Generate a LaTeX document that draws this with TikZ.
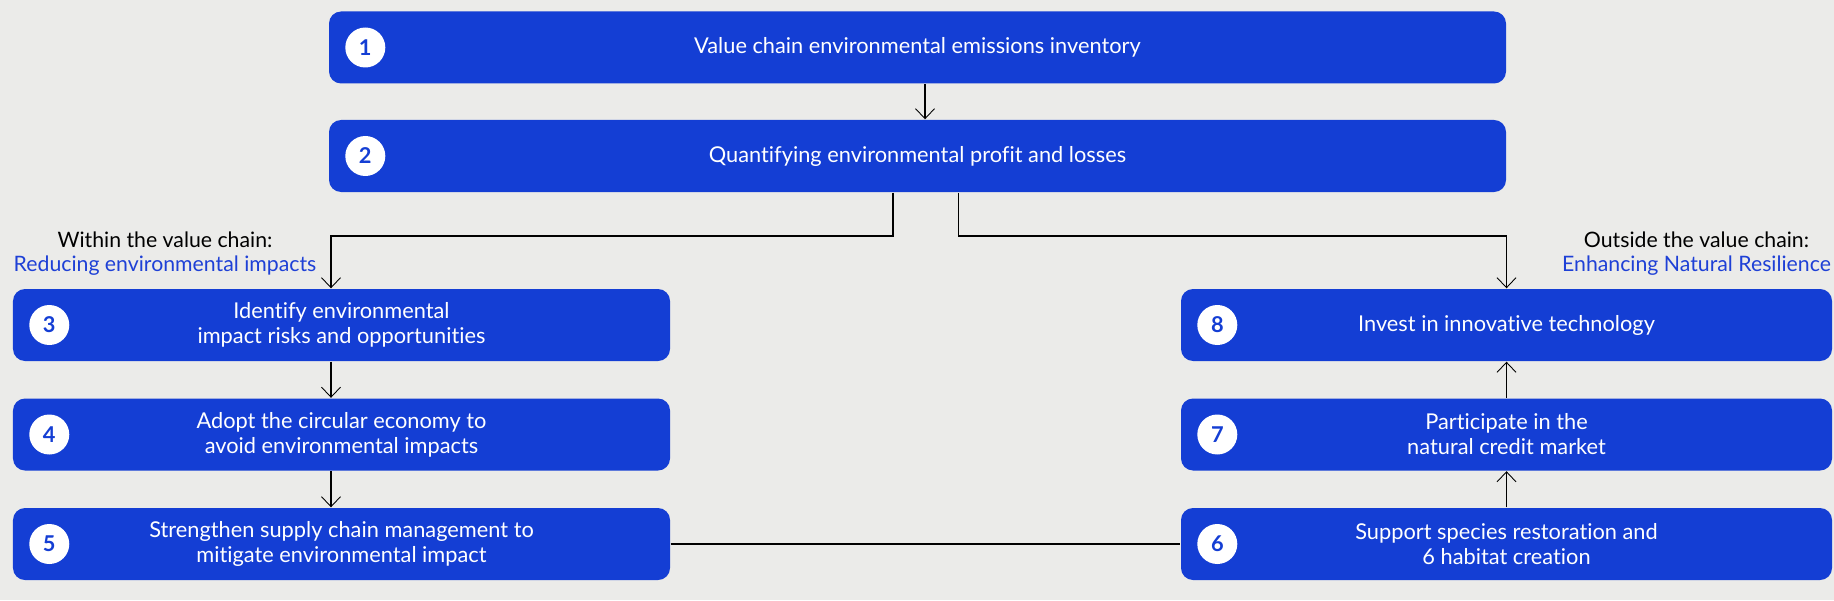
\documentclass[tikz,border=0pt]{standalone}
\usepackage{fontspec}
\setmainfont[Ligatures=NoCommon]{Lato}
\usetikzlibrary{arrows.meta}

\definecolor{boxblue}{RGB}{20,62,212}
\definecolor{labelblue}{RGB}{30,64,214}
\definecolor{paper}{RGB}{235,235,233}

\begin{document}
\begin{tikzpicture}[every node/.style={font=\fontsize{6.2}{7.1}\selectfont},
    stage/.style={fill=boxblue, rounded corners=0.12cm, text=white, align=center,
                  minimum height=0.72cm, inner sep=0pt},
    badge/.style={circle, fill=white, text=boxblue, minimum size=0.4cm, inner sep=0pt,
                  font=\fontsize{6.2}{7.1}\selectfont\bfseries},
    side/.style={font=\fontsize{6.05}{7.1}\selectfont},
    link/.style={line width=0.3pt, black},
    arr/.style={link, -{Straight Barb[length=0.1cm, width=0.19cm, line width=0.25pt]}}]

    \fill[paper] (0cm, 0cm) rectangle (18.34cm, 6cm);
    \useasboundingbox (0cm, 0cm) rectangle (18.34cm, 6cm);

% top stages
    \node[stage, minimum width=11.77cm] (B1) at (9.175cm, 5.525cm) {Value chain environmental emissions inventory};
    \node[stage, minimum width=11.77cm] (B2) at (9.175cm, 4.44cm) {Quantifying environmental profit and losses};

% within the value chain
    \node[side] (L1) at (1.65cm, 3.6cm) {Within the value chain:};
    \node[side, text=labelblue] (L2) at (1.65cm, 3.34cm) {Reducing environmental impacts};

    \node[stage, minimum width=6.57cm] (B3) at (3.415cm, 2.75cm) {Identify environmental\\impact risks and opportunities};
    \node[stage, minimum width=6.57cm] (B4) at (3.415cm, 1.655cm) {Adopt the circular economy to\\avoid environmental impacts};
    \node[stage, minimum width=6.57cm] (B5) at (3.415cm, 0.56cm) {Strengthen supply chain management to\\mitigate environmental impact};

% outside the value chain
    \node[side] (R1) at (16.965cm, 3.6cm) {Outside the value chain:};
    \node[side, text=labelblue] (R2) at (16.965cm, 3.34cm) {Enhancing Natural Resilience};

    \node[stage, minimum width=6.51cm] (B8) at (15.065cm, 2.75cm) {Invest in innovative technology};
    \node[stage, minimum width=6.51cm] (B7) at (15.065cm, 1.655cm) {Participate in the\\natural credit market};
    \node[stage, minimum width=6.51cm] (B6) at (15.065cm, 0.56cm) {Support species restoration and\\6 habitat creation};

% numbers
    \node[badge] (N1) at ([xshift=0.37cm]B1.west) {1};
    \node[badge] (N2) at ([xshift=0.37cm]B2.west) {2};
    \node[badge] (N3) at ([xshift=0.37cm]B3.west) {3};
    \node[badge] (N4) at ([xshift=0.37cm]B4.west) {4};
    \node[badge] (N5) at ([xshift=0.37cm]B5.west) {5};
    \node[badge] (N6) at ([xshift=0.37cm]B6.west) {6};
    \node[badge] (N7) at ([xshift=0.37cm]B7.west) {7};
    \node[badge] (N8) at ([xshift=0.37cm]B8.west) {8};

% connectors
    \coordinate (C12) at (9.25cm, 5cm);
    \coordinate (C23) at (8.93cm, 3.64cm);
    \coordinate (C28) at (9.585cm, 3.64cm);
    \coordinate (C3) at (3.31cm, 3.64cm);

    \draw[arr] (B1.south -| C12) -- (B2.north -| C12);
    \draw[arr] (B2.south -| C23) -- (C23) -| (B3.north -| C3);
    \draw[arr] (B2.south -| C28) -- (C28) -| (B8.north);
    \draw[arr] (B3.south -| C3) -- (B4.north -| C3);
    \draw[arr] (B4.south -| C3) -- (B5.north -| C3);
    \draw[link] (B5.east) -- (B6.west);
    \draw[arr] (B6.north) -- (B7.south);
    \draw[arr] (B7.north) -- (B8.south);

\end{tikzpicture}
\end{document}
